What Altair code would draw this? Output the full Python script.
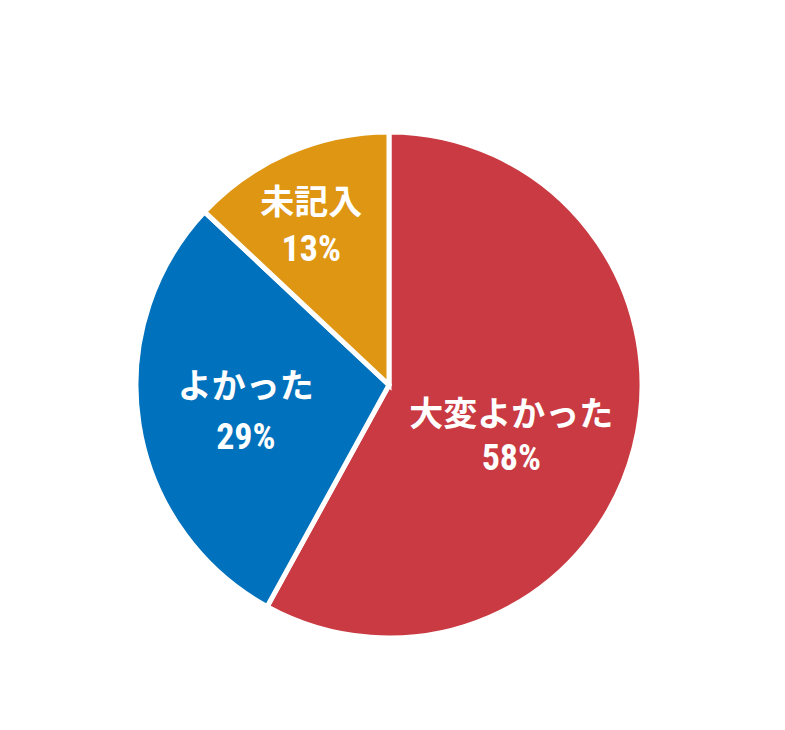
import altair as alt
import pandas as pd

categories = ["大変よかった", "よかった", "未記入"]
values = [58, 29, 13]
pct_labels = ["58%", "29%", "13%"]
colors = ["#C93A42", "#0071BC", "#DE9613"]

# label placement tweaks (style only): (dx, dy of name line, dy of pct line)
label_style = {
    "大変よかった": (-21, -6, 37),
    "よかった": (3, -20, 30),
    "未記入": (-19, -45, 1),
}

df = pd.DataFrame({
    "cat": categories,
    "value": values,
    "pct": pct_labels,
    "order": list(range(len(categories))),
})

base = alt.Chart(df).encode(
    theta=alt.Theta("value:Q", stack=True),
    order=alt.Order("order:Q"),
)

pie = base.mark_arc(outerRadius=253, stroke="white", strokeWidth=5).encode(
    color=alt.Color("cat:N", scale=alt.Scale(domain=categories, range=colors), legend=None)
)

layers = [pie]
label_r = 148
for cat in categories:
    dx, dy1, dy2 = label_style[cat]
    layers.append(base.mark_text(
        radius=label_r, dx=dx, dy=dy1, font="Noto Sans CJK JP", fontWeight="bold",
        fontSize=34, color="white",
    ).encode(text="cat:N", opacity=alt.condition(alt.datum.cat == cat, alt.value(1), alt.value(0))))
    layers.append(base.mark_text(
        radius=label_r, dx=dx, dy=dy2,
        font="Roboto Condensed, DejaVu Sans Condensed, Liberation Sans Narrow, Liberation Sans",
        fontWeight="bold", fontSize=36, color="white",
    ).encode(text="pct:N", opacity=alt.condition(alt.datum.cat == cat, alt.value(1), alt.value(0))))

chart = alt.layer(*layers).properties(
    width=760, height=660,
    padding={"left": 1, "top": 47, "right": 0, "bottom": 0},
    autosize=alt.AutoSizeParams(type="none"),
).configure_view(stroke=None)

chart.save("out.html", embed_options={"renderer": "svg", "actions": False})
